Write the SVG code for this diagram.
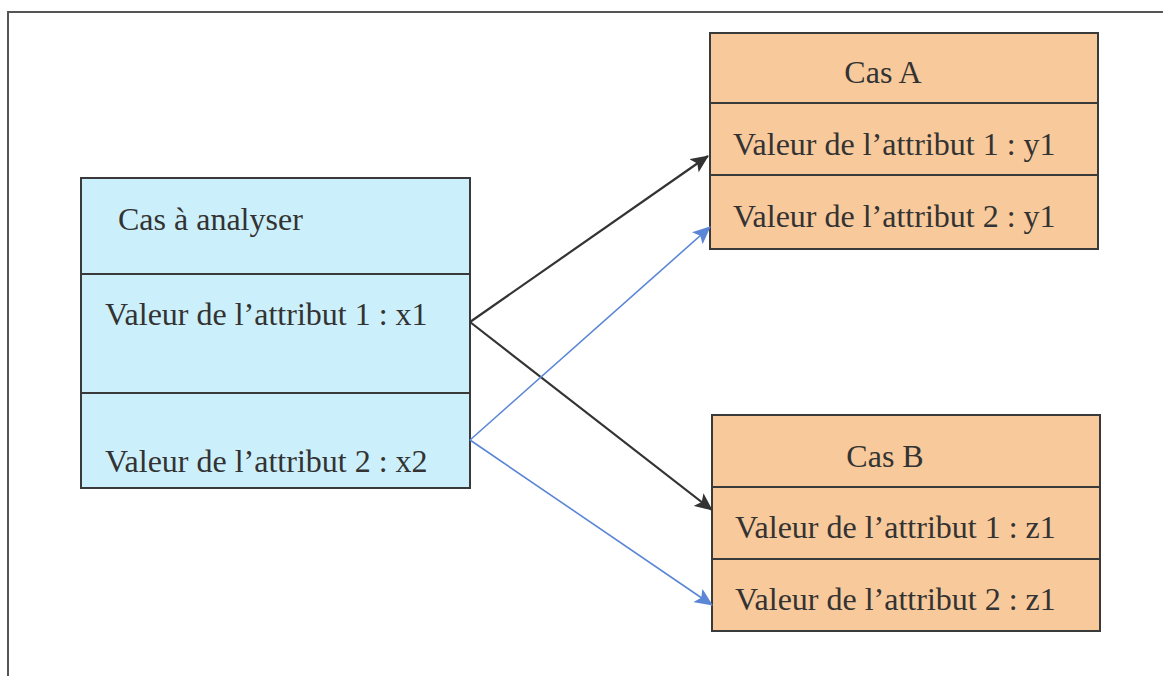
<svg xmlns="http://www.w3.org/2000/svg" width="1163" height="676" viewBox="0 0 1163 676">
<defs>
<style>
.frame{fill:none;stroke:#555;stroke-width:2}
.box{stroke:#3a3a3a;stroke-width:2}
.blue{fill:#ccf0fb}
.orange{fill:#f8c99b}
.div{stroke:#3a3a3a;stroke-width:2}
text{font-family:"Liberation Serif","Times New Roman",serif;font-size:32px;fill:#333}
.c{text-anchor:middle}
.ab{stroke:#333;stroke-width:2.2;fill:none}
.bl{stroke:#5b86d6;stroke-width:1.6;fill:none}
</style>
<marker id="mbl" markerWidth="18" markerHeight="16" refX="17" refY="8" orient="auto" markerUnits="userSpaceOnUse" viewBox="0 0 18 16">
<path d="M0,0 L18,8 L0,16 L4,8 Z" fill="#5b86d6"/>
</marker>
<marker id="mk" markerWidth="18" markerHeight="16" refX="17" refY="8" orient="auto" markerUnits="userSpaceOnUse" viewBox="0 0 18 16">
<path d="M0,0 L18,8 L0,16 L4,8 Z" fill="#333"/>
</marker>
</defs>
<rect width="1163" height="676" fill="#fff"/>
<path class="frame" d="M8,676 L8,12 L1163,12"/>
<g id="cas-analyser">
<rect class="box blue" x="81" y="178" width="389" height="310"/>
<line class="div" x1="81" y1="274" x2="470" y2="274"/>
<line class="div" x1="81" y1="393" x2="470" y2="393"/>
<text x="118" y="230">Cas à analyser</text>
<text x="105" y="325">Valeur de l’attribut 1 : x1</text>
<text x="105" y="472">Valeur de l’attribut 2 : x2</text>
</g>
<g id="cas-a">
<rect class="box orange" x="710" y="33" width="388" height="216"/>
<line class="div" x1="710" y1="103" x2="1098" y2="103"/>
<line class="div" x1="710" y1="175" x2="1098" y2="175"/>
<text class="c" x="883" y="83">Cas A</text>
<text x="733" y="155">Valeur de l’attribut 1 : y1</text>
<text x="733" y="227">Valeur de l’attribut 2 : y1</text>
</g>
<g id="cas-b">
<rect class="box orange" x="712" y="415" width="388" height="216"/>
<line class="div" x1="712" y1="487" x2="1100" y2="487"/>
<line class="div" x1="712" y1="559" x2="1100" y2="559"/>
<text class="c" x="885" y="467">Cas B</text>
<text x="735" y="538">Valeur de l’attribut 1 : z1</text>
<text x="735" y="610">Valeur de l’attribut 2 : z1</text>
</g>
<g id="connectors">
<line class="ab" x1="470" y1="322" x2="708" y2="156" marker-end="url(#mk)"/>
<line class="ab" x1="470" y1="322" x2="712" y2="510" marker-end="url(#mk)"/>
<line class="bl" x1="470" y1="440" x2="710" y2="227" marker-end="url(#mbl)"/>
<line class="bl" x1="470" y1="440" x2="712" y2="605" marker-end="url(#mbl)"/>
</g>
</svg>
